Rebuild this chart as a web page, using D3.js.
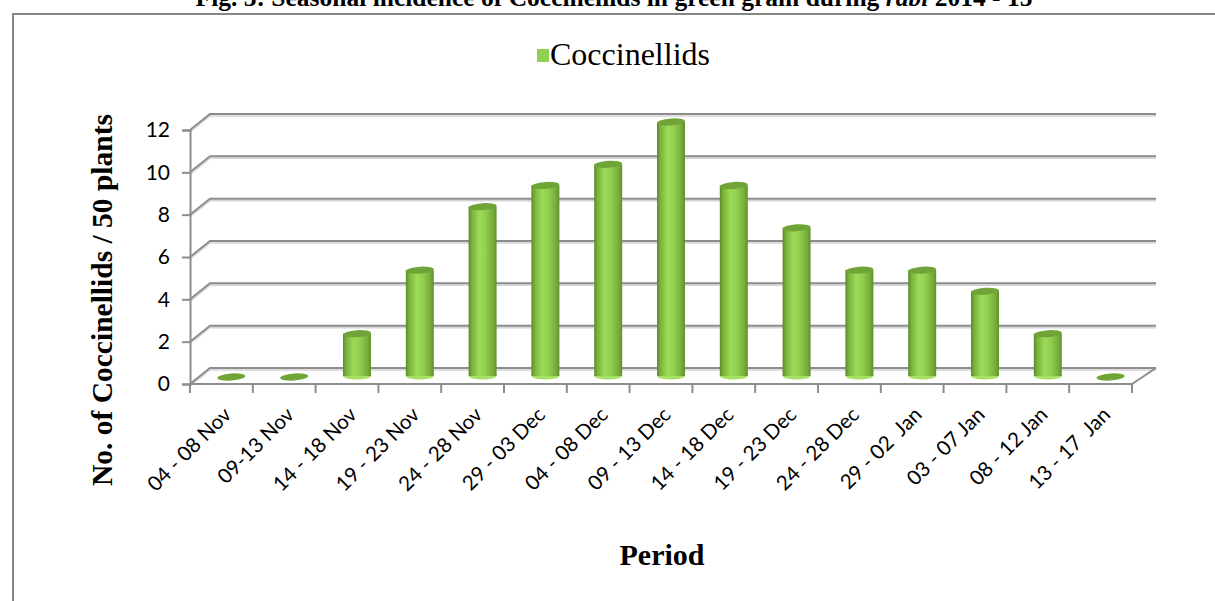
<!DOCTYPE html>
<html>
<head>
<meta charset="utf-8">
<script src="https://cdn.jsdelivr.net/npm/d3@7/dist/d3.min.js"></script>
<style>
  body { margin: 0; background: #fff; }
  svg { display: block; }
</style>
</head>
<body>
<div id="chart"></div>
<script>
// chart data
const periods = ['04 - 08 Nov', '09-13 Nov', '14 - 18 Nov', '19 - 23 Nov', '24 - 28 Nov',
  '29 - 03 Dec', '04 - 08 Dec', '09 - 13 Dec', '14 - 18 Dec', '19 - 23 Dec', '24 - 28 Dec',
  '29 - 02  Jan', '03 - 07 Jan', '08 - 12 Jan', '13 - 17  Jan'];
const coccinellids = [0, 0, 2, 5, 8, 9, 10, 12, 9, 7, 5, 5, 4, 2, 0];
const yTicks = [0, 2, 4, 6, 8, 10, 12];

const W = 1215, H = 601;
const depthX = 20, depthY = 16;   // 3d depth of the floor / walls
const barW = 28;

const svg = d3.select('#chart').append('svg').attr('width', W).attr('height', H);

// gradient for the cylinders
const defs = svg.append('defs');
const grad = defs.append('linearGradient').attr('id', 'cyl').attr('x1', '0%').attr('x2', '100%');
grad.append('stop').attr('offset', '0%').attr('stop-color', '#5a8a2a');
grad.append('stop').attr('offset', '12%').attr('stop-color', '#79b23c');
grad.append('stop').attr('offset', '38%').attr('stop-color', '#9cdc58');
grad.append('stop').attr('offset', '60%').attr('stop-color', '#92d050');
grad.append('stop').attr('offset', '88%').attr('stop-color', '#76ab3a');
grad.append('stop').attr('offset', '100%').attr('stop-color', '#5f9030');

// outer frame
svg.append('path')
  .attr('d', `M13,${H + 5} L13,14 L${W + 5},14`)
  .attr('fill', 'none').attr('stroke', '#868686').attr('stroke-width', 2);

// figure caption (only its lower part shows, as in the scan)
const cap = svg.append('text')
  .attr('x', 614).attr('y', 6)
  .attr('text-anchor', 'middle')
  .attr('font-family', 'Liberation Serif, Times New Roman, serif')
  .attr('font-weight', 'bold').attr('font-size', 25.5);
cap.append('tspan').text('Fig. 3: Seasonal incidence of Coccinellids in green gram during ');
cap.append('tspan').attr('font-style', 'italic').text('rabi');
cap.append('tspan').text(' 2014 - 15');

// scales
const x = d3.scaleBand().domain(periods).range([190, 1132]).padding(0);
const y = d3.scaleLinear().domain([0, 12]).range([384, 130]);
const backRight = x.range()[1] + depthX + 4;

// back wall gridlines with 3d return on the left side
const grid = svg.append('g');
yTicks.forEach(v => {
  const yy = y(v);
  const d = `M${x.range()[0]},${yy} L${x.range()[0] + depthX},${yy - depthY} L${backRight},${yy - depthY}`;
  grid.append('path').attr('d', d).attr('transform', 'translate(0,2)')
    .attr('fill', 'none').attr('stroke', '#d4d4d4').attr('stroke-width', 1.5);
  grid.append('path').attr('d', d)
    .attr('fill', 'none').attr('stroke', '#8c8c8c').attr('stroke-width', 2);
});

// floor front edge and right side
const floorY = y(0);
svg.append('path')
  .attr('d', `M${x.range()[0]},${floorY} L${x.range()[1]},${floorY} L${backRight},${floorY - depthY}`)
  .attr('fill', 'none').attr('stroke', '#8c8c8c').attr('stroke-width', 2);

// y axis
const yAxis = svg.append('g')
  .attr('transform', `translate(${x.range()[0]},0)`)
  .call(d3.axisLeft(y).tickValues(yTicks).tickSize(8).tickPadding(12));
yAxis.select('.domain').attr('stroke', '#8c8c8c').attr('stroke-width', 2);
yAxis.selectAll('.tick line').attr('stroke', '#8c8c8c').attr('stroke-width', 2);
yAxis.selectAll('.tick text')
  .attr('font-family', 'Lato, Carlito, sans-serif').attr('font-size', 21).attr('fill', '#000');

// x axis ticks at band edges
const edges = periods.map(p => x(p)).concat([x.range()[1]]);
svg.append('g').selectAll('line').data(edges).join('line')
  .attr('x1', d => d).attr('x2', d => d)
  .attr('y1', floorY).attr('y2', floorY + 9)
  .attr('stroke', '#8c8c8c').attr('stroke-width', 2);

// x axis labels
const xAxis = svg.append('g')
  .attr('transform', `translate(0,${floorY})`)
  .call(d3.axisBottom(x).tickSize(0).tickPadding(0));
xAxis.select('.domain').remove();
xAxis.selectAll('.tick text')
  .attr('font-family', 'Lato, Carlito, sans-serif').attr('font-size', 20.5).attr('fill', '#000')
  .style('white-space', 'pre')
  .attr('text-anchor', 'end')
  .attr('dy', 0)
  .attr('transform', 'translate(11,32) rotate(-45)');

// cylinders
const cx = d => x(d.p) + x.bandwidth() / 2 + depthX / 2;
const rows = periods.map((p, i) => ({ p, v: coccinellids[i] }));
const bars = svg.append('g').selectAll('g').data(rows).join('g');

bars.filter(d => d.v === 0).append('ellipse')
  .attr('cx', cx).attr('cy', floorY - depthY / 2 + 1)
  .attr('rx', barW / 2).attr('ry', 3.5)
  .attr('transform', d => `rotate(-4,${cx(d)},${floorY - depthY / 2 + 1})`)
  .attr('fill', '#6fa535');

const live = bars.filter(d => d.v > 0);
live.append('ellipse')
  .attr('cx', cx).attr('cy', floorY - depthY / 2)
  .attr('rx', barW / 2).attr('ry', 3.5)
  .attr('fill', '#a6e064');
live.append('rect')
  .attr('x', d => cx(d) - barW / 2)
  .attr('y', d => y(d.v) - depthY / 2)
  .attr('width', barW)
  .attr('height', d => y(0) - y(d.v))
  .attr('fill', 'url(#cyl)');
live.append('ellipse')
  .attr('cx', cx).attr('cy', d => y(d.v) - depthY / 2)
  .attr('rx', barW / 2).attr('ry', 3.5)
  .attr('transform', d => `rotate(-4,${cx(d)},${y(d.v) - depthY / 2})`)
  .attr('fill', '#70a338');

// legend
const legend = svg.append('g');
legend.append('rect').attr('x', 537).attr('y', 49).attr('width', 12).attr('height', 13).attr('fill', '#92d050');
legend.append('text').attr('x', 550).attr('y', 65)
  .attr('font-family', 'Liberation Serif, Times New Roman, serif').attr('font-size', 32)
  .text('Coccinellids');

// axis titles
svg.append('text')
  .attr('transform', 'translate(112,300) rotate(-90)')
  .attr('text-anchor', 'middle')
  .attr('font-family', 'Liberation Serif, Times New Roman, serif')
  .attr('font-weight', 'bold').attr('font-size', 29.5)
  .text('No. of Coccinellids / 50 plants');

svg.append('text')
  .attr('x', 662).attr('y', 565)
  .attr('text-anchor', 'middle')
  .attr('font-family', 'Liberation Serif, Times New Roman, serif')
  .attr('font-weight', 'bold').attr('font-size', 30)
  .text('Period');
</script>
</body>
</html>
